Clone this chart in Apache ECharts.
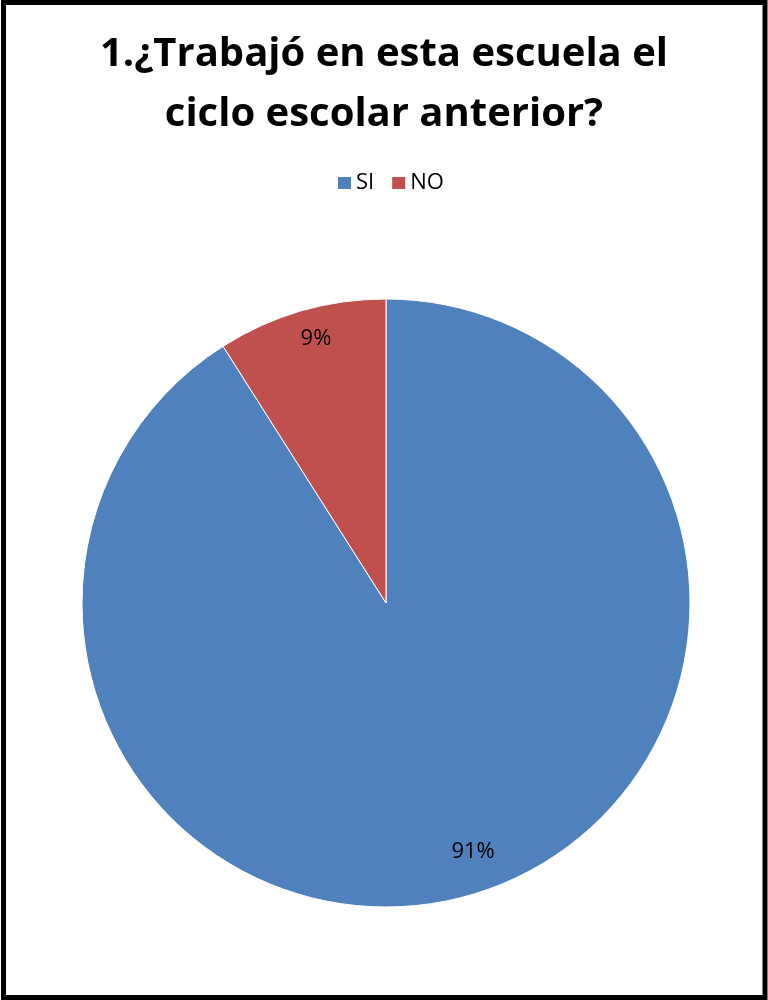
<!DOCTYPE html>
<html>
<head>
<meta charset="utf-8">
<script src="https://cdn.jsdelivr.net/npm/echarts@6/dist/echarts.min.js"></script>
<style>
html,body{margin:0;padding:0;background:#fff;}
#c{width:768px;height:1000px;}
</style>
</head>
<body>
<div id="c"></div>
<script>
const titleText = '1.¿Trabajó en esta escuela el\nciclo escolar anterior?';
const categories = ['SI', 'NO'];
const values = [91, 9];
const colors = ['#4F81BD', '#C0504D'];

const chart = echarts.init(document.getElementById('c'), null, {renderer: 'canvas'});
const font = '"Open Sans", "Liberation Sans", sans-serif';
// small label nudges to mimic the original's label placement
const labelNudge = {SI: [12, -10], NO: [5, -6]};

const baseData = categories.map((c, i) => ({name: c, value: values[i], itemStyle: {color: colors[i]}}));
const labelData = categories.map((c, i) => ({
  name: c, value: values[i],
  itemStyle: {color: 'rgba(0,0,0,0)'},
  label: {offset: labelNudge[c]}
}));

chart.setOption({
  animation: false,
  backgroundColor: '#fff',
  title: {
    text: titleText,
    left: 'center',
    top: 20,
    textStyle: {fontFamily: font, fontWeight: 'bold', fontSize: 40, lineHeight: 60, color: '#000'}
  },
  legend: {
    data: categories,
    top: 172,
    left: 336,
    padding: 0,
    icon: 'rect',
    itemWidth: 15,
    itemHeight: 14,
    itemGap: 16,
    textStyle: {fontFamily: font, fontSize: 22, color: '#000', padding: [0, 0, 0, -1]}
  },
  graphic: [{
    type: 'rect',
    shape: {x: 3.5, y: 2.5, width: 761.5, height: 995},
    style: {fill: 'none', stroke: '#000', lineWidth: 5},
    silent: true,
    z: 100
  }],
  series: [{
    type: 'pie',
    center: [386, 603],
    radius: [0, 304],
    startAngle: 90,
    clockwise: true,
    data: baseData,
    label: {show: false},
    labelLine: {show: false},
    itemStyle: {borderColor: '#fff', borderWidth: 1},
    emphasis: {disabled: true}
  }, {
    type: 'pie',
    center: [386, 603],
    radius: [228, 304],
    startAngle: 90,
    clockwise: true,
    silent: true,
    data: labelData,
    label: {show: true, position: 'inside', formatter: '{c}%', fontFamily: font, fontSize: 22, color: '#000'},
    labelLine: {show: false},
    itemStyle: {borderWidth: 0},
    emphasis: {disabled: true}
  }]
});
</script>
</body>
</html>
